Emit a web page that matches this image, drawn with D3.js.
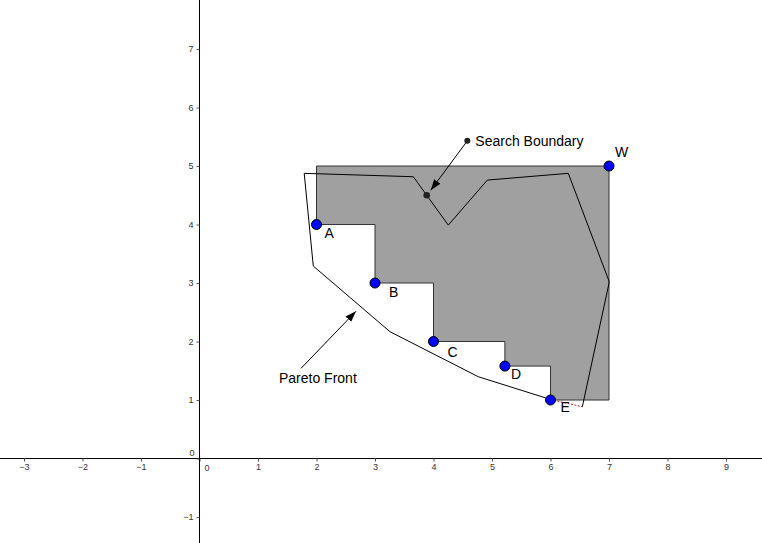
<!DOCTYPE html>
<meta charset="utf-8">
<style>
body { margin: 0; background: #fff; }
.tick text { font: 9px "Liberation Sans", Arial, sans-serif; fill: #333; }
.lbl { font: 14px "Liberation Sans", Arial, sans-serif; fill: #000; }
</style>
<body>
<script src="https://d3js.org/d3.v7.min.js"></script>
<script>
// labelled solutions
var pointNames = ["A", "B", "C", "D", "E", "W"];
var pointX = [2, 3, 4, 5.22, 6, 7];
var pointY = [4, 3, 2, 1.58, 1, 5];

// search boundary polygon (closed)
var boundaryX = [1.79, 1.945, 3.256, 4.766, 6, 6.544, 7.005, 6.304, 4.92, 4.253, 3.655];
var boundaryY = [4.875, 3.29, 2.168, 1.398, 1.01, 0.885, 3.02, 4.875, 4.76, 3.99, 4.817];

// annotation arrows: [start, end]
var searchArrowX = [4.578, 3.884], searchArrowY = [5.43, 4.5];
var paretoArrowX = [1.735, 2.674], paretoArrowY = [1.541, 2.516];

var xTicks = [-3, -2, -1, 0, 1, 2, 3, 4, 5, 6, 7, 8, 9];
var yTicks = [-1, 0, 1, 2, 3, 4, 5, 6, 7];

var width = 762, height = 543;
var x = d3.scaleLinear().domain([-3.410, 9.615]).range([0, width]);
var y = d3.scaleLinear().domain([7.838, -1.444]).range([0, height]);

var svg = d3.select("body").append("svg")
    .attr("width", width).attr("height", height);

var defs = svg.append("defs");
defs.append("marker")
    .attr("id", "arrow")
    .attr("viewBox", "0 0 10 10")
    .attr("refX", 10).attr("refY", 5)
    .attr("markerWidth", 11).attr("markerHeight", 11)
    .attr("markerUnits", "userSpaceOnUse")
    .attr("orient", "auto")
    .append("path").attr("d", "M0,1.5L10,5L0,8.5Z").attr("fill", "#000");

// dominated region: union of boxes from each front point up to W
var W = pointX.length - 1;
var front = d3.range(W).map(function(i) { return [pointX[i], pointY[i]]; });
var region = [[front[0][0], pointY[W]], [pointX[W], pointY[W]], [pointX[W], front[front.length - 1][1]]];
for (var i = front.length - 1; i >= 0; i--) {
    region.push([front[i][0], front[i][1]]);
    if (i > 0) region.push([front[i][0], front[i - 1][1]]);
}
var line = d3.line().x(function(d) { return x(d[0]); }).y(function(d) { return y(d[1]); });

svg.append("path")
    .attr("d", line(region) + "Z")
    .attr("fill", "#a0a0a0")
    .attr("stroke", "#333")
    .attr("stroke-width", 1);

// axes
var xAxis = d3.axisBottom(x).tickValues(xTicks).tickSize(3).tickPadding(2)
    .tickFormat(function(d) { return d === 0 ? "" : d3.format("")(d).replace("-", "\u2212"); });
var gx = svg.append("g").attr("transform", "translate(0," + y(0) + ")").call(xAxis);
gx.select(".domain").attr("d", "M0,0H" + width).attr("stroke", "#000");
gx.selectAll(".tick line").attr("stroke", "#555");

var yAxis = d3.axisLeft(y).tickValues(yTicks).tickSize(3).tickPadding(3)
    .tickFormat(function(d) { return d === 0 ? "" : d3.format("")(d).replace("-", "\u2212"); });
var gy = svg.append("g").attr("transform", "translate(" + x(0) + ",0)").call(yAxis);
gy.select(".domain").attr("d", "M0,0V" + height).attr("stroke", "#000");
gy.selectAll(".tick line").attr("stroke", "#555");

// origin labels
svg.append("text").attr("class", "tick").attr("x", x(0) - 5).attr("y", y(0) - 3)
    .attr("text-anchor", "end").style("font", "9px 'Liberation Sans', Arial, sans-serif").attr("fill", "#333").text("0");
svg.append("text").attr("x", x(0) + 5).attr("y", y(0) + 12)
    .style("font", "9px 'Liberation Sans', Arial, sans-serif").attr("fill", "#333").text("0");

// search boundary
var bpts = boundaryX.map(function(v, i) { return [v, boundaryY[i]]; });
// black part: from (6.544,0.885) around to E, red dotted piece E -> (6.544,0.885)
var blackPart = bpts.slice(5).concat(bpts.slice(0, 5));
svg.append("path")
    .attr("d", line(blackPart))
    .attr("fill", "none").attr("stroke", "#000").attr("stroke-width", 1);
svg.append("path")
    .attr("d", line([bpts[4], bpts[5]]))
    .attr("fill", "none").attr("stroke", "#d02020").attr("stroke-width", 1)
    .attr("stroke-dasharray", "2,1.5");

// annotation arrows
svg.append("line")
    .attr("x1", x(searchArrowX[0])).attr("y1", y(searchArrowY[0]))
    .attr("x2", x(searchArrowX[1]) + 4).attr("y2", y(searchArrowY[1]) - 5)
    .attr("stroke", "#000").attr("stroke-width", 1).attr("marker-end", "url(#arrow)");
svg.append("circle").attr("cx", x(searchArrowX[0])).attr("cy", y(searchArrowY[0])).attr("r", 3).attr("fill", "#222");
svg.append("circle").attr("cx", x(searchArrowX[1])).attr("cy", y(searchArrowY[1])).attr("r", 3.3).attr("fill", "#222");
svg.append("text").attr("class", "lbl").attr("x", x(searchArrowX[0]) + 8).attr("y", y(searchArrowY[0]) + 5).text("Search Boundary");

svg.append("line")
    .attr("x1", x(paretoArrowX[0])).attr("y1", y(paretoArrowY[0]))
    .attr("x2", x(paretoArrowX[1])).attr("y2", y(paretoArrowY[1]))
    .attr("stroke", "#000").attr("stroke-width", 1).attr("marker-end", "url(#arrow)");
svg.append("text").attr("class", "lbl").attr("x", x(paretoArrowX[0]) - 22).attr("y", y(paretoArrowY[0]) + 15).text("Pareto Front");

// points and their labels
var labelDx = [8, 14, 14, 6, 10, 6], labelDy = [13.5, 14, 15, 13, 12, -9];
var pts = svg.selectAll(".pt").data(pointNames).enter().append("g").attr("class", "pt");
pts.append("circle")
    .attr("cx", function(d, i) { return x(pointX[i]); })
    .attr("cy", function(d, i) { return y(pointY[i]); })
    .attr("r", 5)
    .attr("fill", "#0000ff").attr("stroke", "#000").attr("stroke-width", 1);
pts.append("text").attr("class", "lbl")
    .attr("x", function(d, i) { return x(pointX[i]) + labelDx[i]; })
    .attr("y", function(d, i) { return y(pointY[i]) + labelDy[i]; })
    .text(function(d) { return d; });
</script>
</body>
